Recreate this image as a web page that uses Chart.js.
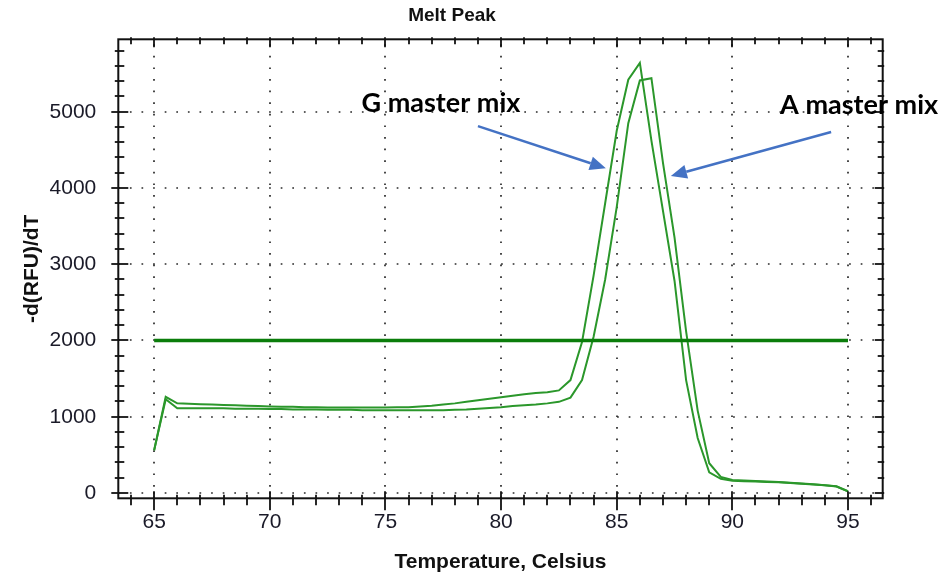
<!DOCTYPE html>
<html>
<head>
<meta charset="utf-8">
<script src="https://cdn.jsdelivr.net/npm/chart.js@4.4.1/dist/chart.umd.min.js"></script>
<style>
html,body{margin:0;padding:0;background:#fff;}
#wrap{width:947px;height:579px;position:relative;}
</style>
</head>
<body>
<div id="wrap"><canvas id="c" width="947" height="579"></canvas></div>
<script>
// ---- data ----
const temperatures = [65,65.5,66,66.5,67,67.5,68,68.5,69,69.5,70,70.5,71,71.5,72,72.5,73,73.5,74,74.5,
  75,75.5,76,76.5,77,77.5,78,78.5,79,79.5,80,80.5,81,81.5,82,82.5,83,83.5,84,84.5,
  85,85.5,86,86.5,87,87.5,88,88.5,89,89.5,90,90.5,91,91.5,92,92.5,93,93.5,94,94.5,95];
const gMasterMix = [560,1260,1175,1170,1165,1160,1155,1150,1145,1140,1135,1130,1130,1125,1125,1120,1120,1120,1120,1120,
  1120,1125,1125,1135,1145,1160,1175,1195,1215,1235,1255,1275,1295,1310,1320,1345,1480,1980,2850,3800,
  4750,5420,5640,4620,3700,2780,1480,720,270,185,160,155,150,145,140,130,120,110,100,85,20];
const aMasterMix = [560,1230,1110,1110,1110,1110,1110,1105,1105,1105,1100,1100,1095,1095,1095,1090,1090,1090,1085,1085,
  1085,1085,1085,1085,1085,1085,1090,1095,1105,1115,1125,1140,1150,1160,1175,1195,1250,1480,2050,2800,
  3750,4850,5410,5440,4330,3350,2120,1080,390,210,170,162,157,150,143,133,123,113,102,88,22];
const thresholdTemps = [65, 95];
const thresholdLevel = 2000;
const xTickLabels = [65,70,75,80,85,90,95];
const yTickLabels = [0,1000,2000,3000,4000,5000];
const xMinorStep = 1;
const yMinorStep = 200;
const chartTitle = 'Melt Peak';
const xTitle = 'Temperature, Celsius';
const yTitle = '-d(RFU)/dT';
const seriesNames = ['G master mix', 'A master mix'];

const toXY = (xs, ys) => xs.map((t, i) => ({x: t, y: ys[i]}));

const decorPlugin = {
  id: 'decor',
  beforeDatasetsDraw(chart) {
    const {ctx, chartArea: a, scales: {x, y}} = chart;
    ctx.save();
    ctx.strokeStyle = '#2a2a2a';
    ctx.lineWidth = 1.7;
    ctx.setLineDash([1.7, 9.9]);
    for (const v of xTickLabels) {
      const px = Math.round(x.getPixelForValue(v));
      ctx.beginPath(); ctx.moveTo(px, a.bottom); ctx.lineTo(px, a.top); ctx.stroke();
    }
    for (const v of yTickLabels) {
      const py = Math.round(y.getPixelForValue(v));
      ctx.beginPath(); ctx.moveTo(a.left, py); ctx.lineTo(a.right, py); ctx.stroke();
    }
    ctx.restore();
  },
  afterDatasetsDraw(chart) {
    const {ctx, chartArea: a, scales: {x, y}} = chart;
    ctx.save();
    ctx.strokeStyle = '#111';
    ctx.lineWidth = 1.8;
    ctx.setLineDash([]);
    const seg = (x1, y1, x2, y2) => { ctx.beginPath(); ctx.moveTo(x1, y1); ctx.lineTo(x2, y2); ctx.stroke(); };
    for (let v = Math.ceil(x.min); v <= Math.floor(x.max); v += xMinorStep) {
      const px = Math.round(x.getPixelForValue(v));
      const major = xTickLabels.includes(v);
      seg(px, a.bottom - (major ? 7 : 3.5), px, a.bottom + (major ? 12 : 7));
      seg(px, a.top - 2, px, a.top + (major ? 8 : 5));
    }
    for (let v = Math.ceil(y.min / yMinorStep) * yMinorStep; v <= y.max; v += yMinorStep) {
      const py = Math.round(y.getPixelForValue(v));
      const major = yTickLabels.includes(v);
      seg(a.left - (major ? 7 : 3.5), py, a.left + (major ? 10 : 6), py);
      seg(a.right - (major ? 8 : 5), py, a.right + 1.5, py);
    }
    ctx.lineWidth = 2;
    ctx.strokeRect(a.left, a.top, a.right - a.left, a.bottom - a.top);
    ctx.restore();
  },
  afterDraw(chart) {
    const {ctx, scales: {x, y}} = chart;
    const o = chart.options.plugins.decor;
    ctx.save();
    ctx.fillStyle = '#111';
    ctx.font = 'bold 19px "Liberation Sans", Arial, sans-serif';
    ctx.textAlign = 'center';
    ctx.textBaseline = 'middle';
    ctx.fillText(chartTitle, o.titleX, o.titleY);
    for (const an of o.notes) {
      const x0 = x.getPixelForValue(an.from[0]), y0 = y.getPixelForValue(an.from[1]);
      const x1 = x.getPixelForValue(an.to[0]), y1 = y.getPixelForValue(an.to[1]);
      const ang = Math.atan2(y1 - y0, x1 - x0);
      const hl = 16, hw = 7;
      const bx = x1 - hl * Math.cos(ang), by = y1 - hl * Math.sin(ang);
      ctx.strokeStyle = '#4472C4';
      ctx.fillStyle = '#4472C4';
      ctx.lineWidth = 2.5;
      ctx.beginPath(); ctx.moveTo(x0, y0); ctx.lineTo(bx, by); ctx.stroke();
      ctx.beginPath();
      ctx.moveTo(x1, y1);
      ctx.lineTo(bx + hw * Math.sin(ang), by - hw * Math.cos(ang));
      ctx.lineTo(bx - hw * Math.sin(ang), by + hw * Math.cos(ang));
      ctx.closePath(); ctx.fill();
      ctx.fillStyle = '#000';
      ctx.font = 'bold 27px Lato, "Open Sans", sans-serif';
      ctx.textAlign = 'center';
      ctx.textBaseline = 'middle';
      ctx.fillText(an.text, x.getPixelForValue(an.at[0]), y.getPixelForValue(an.at[1]));
    }
    ctx.restore();
  }
};

new Chart(document.getElementById('c'), {
  type: 'line',
  data: {
    datasets: [
      {
        label: 'Threshold',
        data: toXY(thresholdTemps, thresholdTemps.map(() => thresholdLevel)),
        borderColor: '#0b7d0b',
        borderWidth: 3.5,
        pointRadius: 0,
        tension: 0
      },
      {
        label: seriesNames[0],
        data: toXY(temperatures, gMasterMix),
        borderColor: '#2b972b',
        borderWidth: 2,
        pointRadius: 0,
        tension: 0
      },
      {
        label: seriesNames[1],
        data: toXY(temperatures, aMasterMix),
        borderColor: '#2b972b',
        borderWidth: 2,
        pointRadius: 0,
        tension: 0
      }
    ]
  },
  options: {
    responsive: false,
    animation: false,
    devicePixelRatio: 1,
    layout: {padding: {top: 39.3, right: 64.3, bottom: 0, left: 0}},
    plugins: {
      legend: {display: false},
      tooltip: {enabled: false},
      title: {display: false},
      decor: {
        titleX: 452, titleY: 16,
        notes: [
          {text: seriesNames[0], at: [77.4, 5114], from: [79.0, 4812], to: [84.53, 4258]},
          {text: seriesNames[1], at: [95.48, 5088], from: [94.27, 4734], to: [87.34, 4157]}
        ]
      }
    },
    scales: {
      x: {
        type: 'linear',
        min: 63.45,
        max: 96.5,
        afterFit: s => { s.height = 80.7; },
        afterBuildTicks: s => { s.ticks = xTickLabels.map(v => ({value: v})); },
        grid: {display: false, drawTicks: false},
        border: {display: false},
        ticks: {
          autoSkip: false,
          maxRotation: 0,
          padding: 11,
          color: '#1a1a28',
          callback: v => String(v),
          font: {family: '"Liberation Sans", Arial, sans-serif', size: 21}
        },
        title: {
          display: true,
          text: xTitle,
          color: '#111',
          padding: {top: 0, bottom: 4.4},
          font: {family: '"Liberation Sans", Arial, sans-serif', size: 21, weight: 'bold'}
        }
      },
      y: {
        type: 'linear',
        min: -70,
        max: 5950,
        afterFit: s => { s.width = 118.3; },
        afterBuildTicks: s => { s.ticks = yTickLabels.map(v => ({value: v})); },
        grid: {display: false, drawTicks: false},
        border: {display: false},
        ticks: {
          autoSkip: false,
          padding: 22,
          color: '#1a1a28',
          callback: v => String(v),
          font: {family: '"Liberation Sans", Arial, sans-serif', size: 21}
        },
        title: {
          display: true,
          text: yTitle,
          color: '#111',
          padding: {top: 19.4, bottom: 0},
          font: {family: '"Liberation Sans", Arial, sans-serif', size: 21, weight: 'bold'}
        }
      }
    }
  },
  plugins: [decorPlugin]
});
</script>
</body>
</html>
